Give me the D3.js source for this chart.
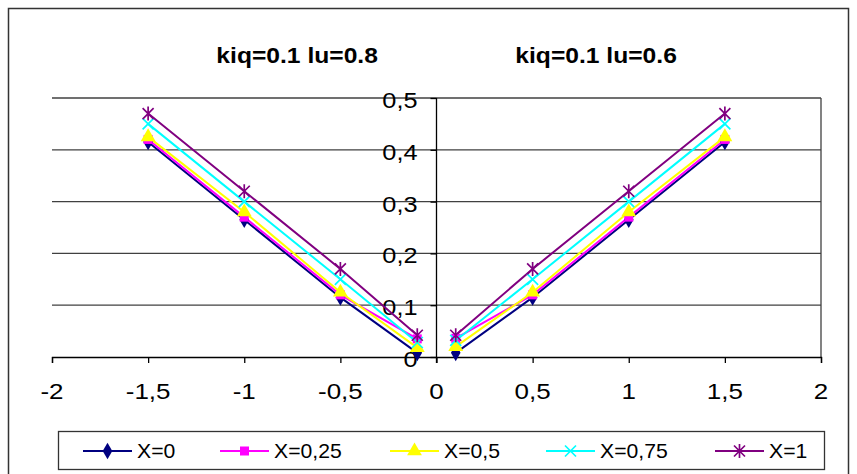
<!DOCTYPE html>
<html>
<head>
<meta charset="utf-8">
<script src="https://cdn.jsdelivr.net/npm/d3@7"></script>
<style>
  html, body { margin: 0; padding: 0; background: #fff; }
  svg { display: block; }
  text { font-family: "Liberation Sans", Arial, sans-serif; }
</style>
</head>
<body>
<svg id="chart" width="857" height="474"></svg>
<script>
// ---- data ----
const xLeft = [-1.5, -1, -0.5, -0.1];
const xRight = [0.1, 0.5, 1, 1.5];
const seriesNames = ["X=0", "X=0,25", "X=0,5", "X=0,75", "X=1"];
const leftX0   = [0.415, 0.265, 0.115, 0.008];
const leftX025 = [0.42, 0.27, 0.12, 0.035];
const leftX05  = [0.425, 0.28, 0.125, 0.018];
const leftX075 = [0.45, 0.30, 0.15, 0.028];
const leftX1   = [0.47, 0.32, 0.17, 0.042];
const rightX0   = [0.008, 0.115, 0.265, 0.415];
const rightX025 = [0.036, 0.12, 0.27, 0.42];
const rightX05  = [0.02, 0.125, 0.28, 0.425];
const rightX075 = [0.032, 0.15, 0.30, 0.45];
const rightX1   = [0.042, 0.17, 0.32, 0.47];
const xTicks = [-2, -1.5, -1, -0.5, 0, 0.5, 1, 1.5, 2];
const xTickLabels = ["-2", "-1,5", "-1", "-0,5", "0", "0,5", "1", "1,5", "2"];
const yTicks = [0, 0.1, 0.2, 0.3, 0.4, 0.5];
const yTickLabels = ["0", "0,1", "0,2", "0,3", "0,4", "0,5"];
const titles = ["kiq=0.1 lu=0.8", "kiq=0.1 lu=0.6"];
const titleX = [-0.725, 0.83];

const leftVals = [leftX0, leftX025, leftX05, leftX075, leftX1];
const rightVals = [rightX0, rightX025, rightX05, rightX075, rightX1];
const colors = ["#000080", "#FF00FF", "#FFFF00", "#00FFFF", "#800080"];
const markers = ["diamond", "square", "triangle", "x", "star"];

const svg = d3.select("#chart");

// outer border
svg.append("rect").attr("x", 8.5).attr("y", 8.5).attr("width", 840).attr("height", 470)
  .attr("fill", "none").attr("stroke", "#333").attr("stroke-width", 1.5);

const x = d3.scaleLinear().domain([-2, 2]).range([52, 821]);
const y = d3.scaleLinear().domain([0, 0.5]).range([357, 98]);

// gridlines
svg.append("g").selectAll("line").data(yTicks.slice(1)).join("line")
  .attr("x1", x(-2)).attr("x2", x(2))
  .attr("y1", d => y(d)).attr("y2", d => y(d))
  .attr("stroke", "#404040").attr("stroke-width", 1.3);
// right border of plot
svg.append("line").attr("x1", x(2)).attr("x2", x(2)).attr("y1", y(0.5)).attr("y2", y(0))
  .attr("stroke", "#404040").attr("stroke-width", 1.3);

// x axis
const xAxis = d3.axisBottom(x).tickValues(xTicks).tickSize(6).tickFormat("");
const gx = svg.append("g").attr("transform", `translate(0,${y(0)})`).call(xAxis);
gx.select(".domain").attr("stroke", "#000").attr("stroke-width", 1.3);
gx.selectAll(".tick line").attr("stroke", "#000").attr("stroke-width", 1.3);
svg.append("g").selectAll("text").data(xTicks).join("text")
  .attr("transform", (d) => `translate(${x(d)},${y(0) + 42}) scale(1.18,1)`)
  .attr("text-anchor", "middle").attr("font-size", 22).attr("fill", "#000")
  .text((d, i) => xTickLabels[i]);

// y axis
const yAxis = d3.axisLeft(y).tickValues(yTicks).tickSize(6).tickFormat("");
const gy = svg.append("g").attr("transform", `translate(${x(0)},0)`).call(yAxis);
gy.select(".domain").remove();
gy.selectAll(".tick line").attr("stroke", "#000").attr("stroke-width", 1.3);
svg.append("line").attr("x1", x(0)).attr("x2", x(0)).attr("y1", y(0.5)).attr("y2", y(0) + 6)
  .attr("stroke", "#000").attr("stroke-width", 1.3);
svg.append("g").selectAll("text").data(yTicks).join("text")
  .attr("transform", (d) => `translate(${x(0) - 19},${y(d) + 10}) scale(1.15,1)`)
  .attr("text-anchor", "end").attr("font-size", 22).attr("fill", "#000")
  .text((d, i) => yTickLabels[i]);

// titles
svg.append("g").selectAll("text").data(titles).join("text")
  .attr("transform", (d, i) => `translate(${x(titleX[i])},63) scale(1.12,1)`)
  .attr("text-anchor", "middle").attr("font-size", 22).attr("font-weight", "bold")
  .attr("fill", "#000").text(d => d);

function marker(g, type, color, cx, cy) {
  if (type === "diamond") {
    g.append("path").attr("d", d3.symbol(d3.symbolDiamond, 80)())
      .attr("transform", `translate(${cx},${cy})`).attr("fill", color);
  } else if (type === "square") {
    g.append("rect").attr("x", cx - 4.5).attr("y", cy - 4.5).attr("width", 9).attr("height", 9).attr("fill", color);
  } else if (type === "triangle") {
    g.append("path").attr("d", d3.symbol(d3.symbolTriangle, 95)())
      .attr("transform", `translate(${cx},${cy})`).attr("fill", color);
  } else if (type === "x") {
    g.append("path").attr("d", `M${cx-5.5},${cy-5.5}L${cx+5.5},${cy+5.5}M${cx-5.5},${cy+5.5}L${cx+5.5},${cy-5.5}`)
      .attr("stroke", color).attr("stroke-width", 1.7);
  } else if (type === "star") {
    g.append("path").attr("d", `M${cx-5.5},${cy-5.5}L${cx+5.5},${cy+5.5}M${cx-5.5},${cy+5.5}L${cx+5.5},${cy-5.5}M${cx},${cy-7}L${cx},${cy+7}`)
      .attr("stroke", color).attr("stroke-width", 1.7);
  }
}

const line = d3.line().x(d => x(d[0])).y(d => y(d[1]));
const plot = svg.append("g");
[[xLeft, leftVals], [xRight, rightVals]].forEach(([xs, vals]) => {
  vals.forEach((vs, si) => {
    const pts = xs.map((xv, i) => [xv, vs[i]]);
    plot.append("path").attr("d", line(pts)).attr("fill", "none")
      .attr("stroke", colors[si]).attr("stroke-width", 2);
  });
});
[[xLeft, leftVals], [xRight, rightVals]].forEach(([xs, vals]) => {
  vals.forEach((vs, si) => {
    xs.forEach((xv, i) => marker(plot, markers[si], colors[si], x(xv), y(vs[i])));
  });
});

// legend
svg.append("rect").attr("x", 58.5).attr("y", 431.5).attr("width", 766).attr("height", 38)
  .attr("fill", "#fff").attr("stroke", "#333").attr("stroke-width", 1.3);
const legX = [83, 220, 390, 546, 715];
const lg = svg.append("g");
seriesNames.forEach((n, i) => {
  lg.append("line").attr("x1", legX[i]).attr("x2", legX[i] + 49).attr("y1", 451).attr("y2", 451)
    .attr("stroke", colors[i]).attr("stroke-width", 2);
  marker(lg, markers[i], colors[i], legX[i] + 24.5, 451);
  lg.append("text").attr("transform", `translate(${legX[i] + 54},458) scale(1.06,1)`)
    .attr("font-size", 20).attr("fill", "#000").text(n);
});
</script>
</body>
</html>
